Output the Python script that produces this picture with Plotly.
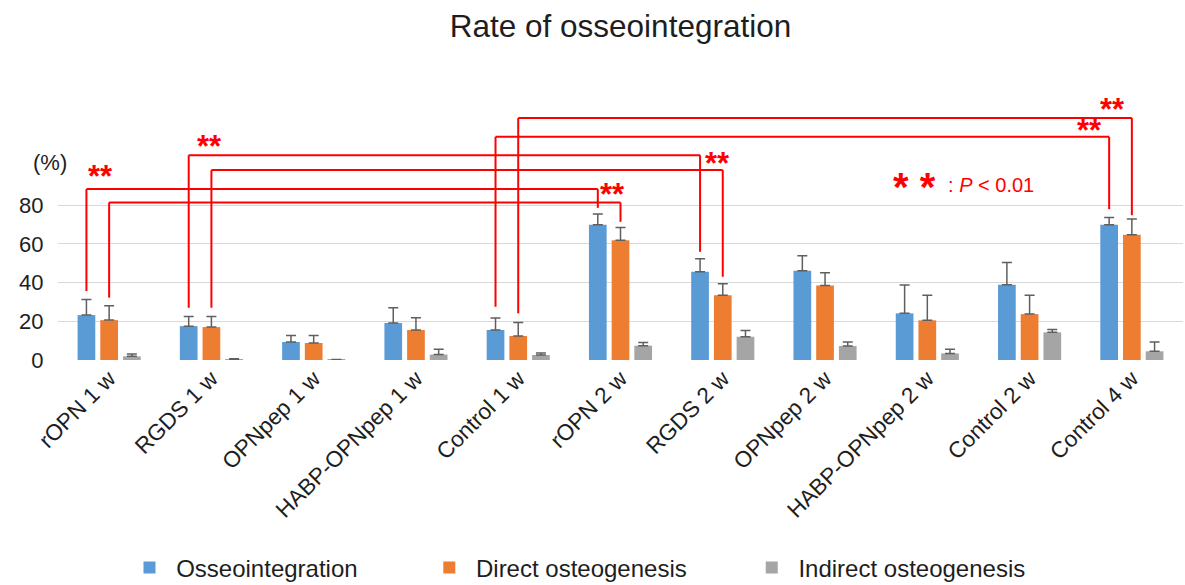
import plotly.graph_objects as go

# ---------------- data ----------------
categories = ["rOPN 1 w", "RGDS 1 w", "OPNpep 1 w", "HABP-OPNpep 1 w", "Control 1 w",
              "rOPN 2 w", "RGDS 2 w", "OPNpep 2 w", "HABP-OPNpep 2 w", "Control 2 w", "Control 4 w"]

osseointegration = [23.2, 17.5, 9.3, 19.1, 15.5, 69.9, 45.6, 46.1, 24.1, 38.9, 69.9]
osseointegration_err = [8.1, 5.0, 3.3, 7.9, 6.2, 5.5, 6.7, 7.7, 14.6, 11.5, 3.7]

direct = [20.6, 17.0, 8.8, 15.5, 12.4, 61.9, 33.4, 38.5, 20.5, 23.7, 64.7]
direct_err = [7.4, 5.5, 3.8, 6.3, 7.0, 6.6, 6.0, 6.6, 12.9, 9.7, 8.2]

indirect = [1.9, 0.3, 0.2, 2.8, 2.6, 7.4, 12.0, 7.2, 3.4, 14.3, 4.5]
indirect_err = [1.2, 0.3, 0.1, 2.7, 1.0, 1.7, 3.3, 2.1, 2.1, 1.5, 4.8]

series_names = ["Osseointegration", "Direct osteogenesis", "Indirect osteogenesis"]
y_ticks = [0, 20, 40, 60, 80]

# significance brackets: group from, group to, series (0 = osseo, 1 = direct),
# bracket height, bottom of left leg, bottom of right leg
bracket_from = [0, 0, 1, 1, 4, 4]
bracket_to = [5, 5, 6, 6, 10, 10]
bracket_series = [0, 1, 0, 1, 0, 1]
bracket_height = [88.3, 81.4, 105.8, 98.1, 115.3, 125.0]
bracket_bottom_from = [35.6, 32.2, 27.0, 27.0, 27.5, 24.1]
bracket_bottom_to = [78.6, 71.4, 55.9, 43.0, 77.9, 74.8]

# "**" marks: x in category units, y in %
star_x = [-0.08, 0.98, 4.92, 5.95, 9.59, 9.81]
star_y = [96.5, 112.0, 86.9, 102.9, 119.9, 131.1]

# ---------------- style ----------------
colors = ["#5B9BD5", "#ED7D31", "#A5A5A5"]
RED = "#FF0000"
TXT = "#1e1e1e"
FONT = "Liberation Sans, Arial, sans-serif"
BARGAP = 0.334
SLOT = (1 - BARGAP) / 3
NB = "\u00a0"
legend_pad = [10, 9, 0]  # trailing non-breaking spaces to space legend entries

values = [osseointegration, direct, indirect]
errors = [osseointegration_err, direct_err, indirect_err]

fig = go.Figure()
for name, vals, errs, col, pad in zip(series_names, values, errors, colors, legend_pad):
    fig.add_trace(go.Bar(
        x=categories, y=vals, name=NB + name + NB * pad,
        marker=dict(color=col, line=dict(width=0)),
        error_y=dict(type="data", array=errs, arrayminus=[0] * len(errs),
                     symmetric=False, color="#5f5f5f", thickness=1.5, width=5),
    ))

shapes = []
for gf, gt, s, h, bf, bt in zip(bracket_from, bracket_to, bracket_series,
                                bracket_height, bracket_bottom_from, bracket_bottom_to):
    off = (s - 1) * SLOT
    xa, xb = gf + off, gt + off
    line = dict(color=RED, width=2)
    shapes.append(dict(type="line", xref="x", yref="y", x0=xa, x1=xa, y0=bf, y1=h, line=line))
    shapes.append(dict(type="line", xref="x", yref="y", x0=xa, x1=xb, y0=h, y1=h, line=line))
    shapes.append(dict(type="line", xref="x", yref="y", x0=xb, x1=xb, y0=h, y1=bt, line=line))

annotations = []
for sx, sy in zip(star_x, star_y):
    annotations.append(dict(x=sx, y=sy, xref="x", yref="y", text="<b>**</b>",
                            showarrow=False, font=dict(family=FONT, size=31, color=RED),
                            yshift=-3))

annotations.append(dict(x=7.872, y=91.9, xref="x", yref="y", text="<b>* *</b>",
                        showarrow=False, font=dict(family=FONT, size=40, color=RED),
                        yshift=-5))
annotations.append(dict(x=8.18, y=90.3, xref="x", yref="y", xanchor="left",
                        text=": <i>P</i> < 0.01",
                        showarrow=False, font=dict(family=FONT, size=20, color=RED)))
annotations.append(dict(x=(31 - 58) / 1125, y=102.2, xref="paper", yref="y", text="(%)",
                        showarrow=False, font=dict(family=FONT, size=22, color=TXT)))

fig.update_layout(
    width=1185, height=585,
    margin=dict(l=58, r=2, t=89, b=225),
    paper_bgcolor="white", plot_bgcolor="white",
    barmode="group", bargap=BARGAP, bargroupgap=0.22,
    font=dict(family=FONT, color=TXT),
    title=dict(text="Rate of osseointegration", x=0.5, xref="paper", xanchor="center",
               y=1 - 26 / 585, yanchor="middle",
               font=dict(family=FONT, size=31.5, color=TXT)),
    xaxis=dict(type="category", range=[-0.5, 10.5], tickangle=-45,
               tickfont=dict(family=FONT, size=22.5, color=TXT),
               showline=False, ticks="", showgrid=False, automargin=False),
    yaxis=dict(range=[0, 140], tickvals=y_ticks, ticktext=[str(v) for v in y_ticks],
               tickfont=dict(family=FONT, size=22, color=TXT),
               showgrid=True, gridcolor="#D9D9D9", gridwidth=1,
               zeroline=False, showline=False,
               ticks="outside", ticklen=9, tickcolor="rgba(0,0,0,0)",
               automargin=False),
    legend=dict(orientation="h", x=(129.5 - 58) / 1125, xanchor="left",
                yref="container", y=1 - 568 / 585, yanchor="middle",
                font=dict(family=FONT, size=24, color=TXT),
                itemwidth=30, bgcolor="rgba(0,0,0,0)"),
    shapes=shapes,
    annotations=annotations,
)

fig.write_html("out.html", config={"displayModeBar": False},
               post_script="document.body.style.margin='0px';")
